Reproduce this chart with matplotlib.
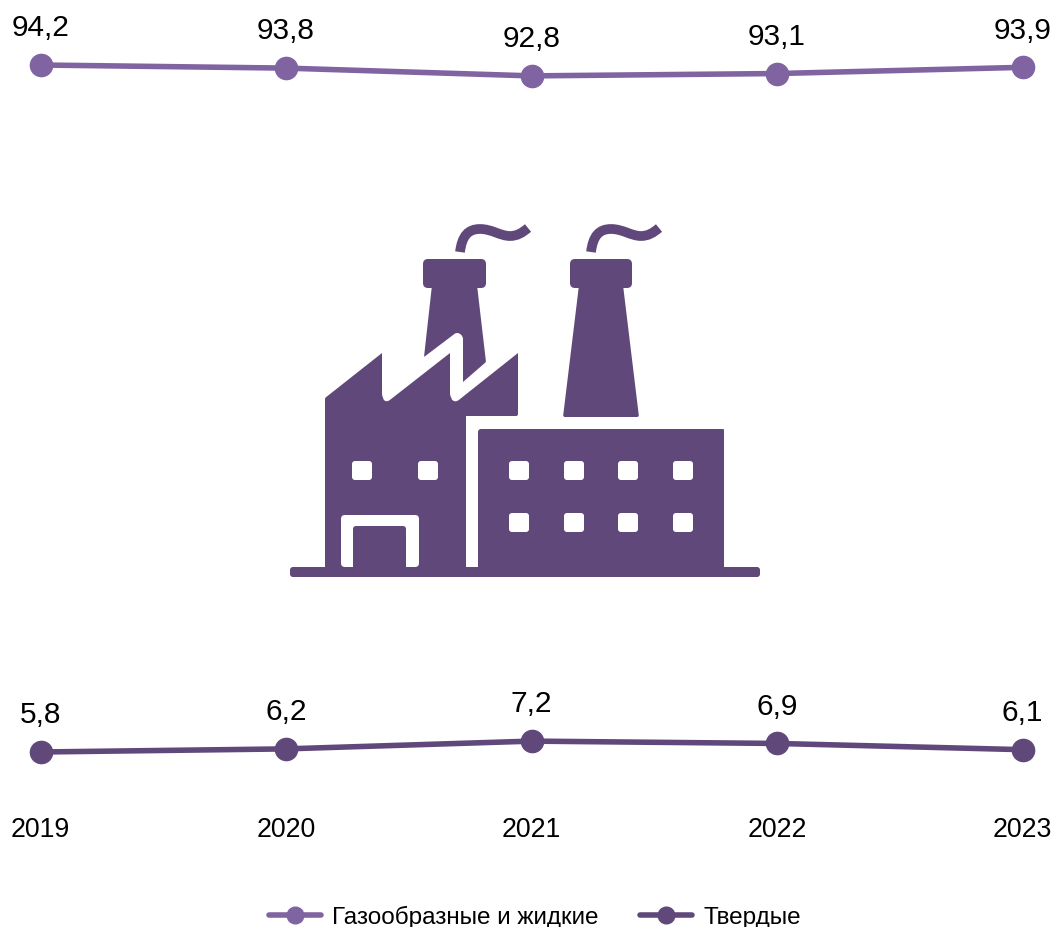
import numpy as np
import matplotlib.pyplot as plt
from matplotlib.path import Path
from matplotlib.patches import PathPatch

years = [2019, 2020, 2021, 2022, 2023]
gas_liquid = [94.2, 93.8, 92.8, 93.1, 93.9]
solid = [5.8, 6.2, 7.2, 6.9, 6.1]
gas_labels = ["94,2", "93,8", "92,8", "93,1", "93,9"]
solid_labels = ["5,8", "6,2", "7,2", "6,9", "6,1"]
legend_names = ["Газообразные и жидкие", "Твердые"]

LIGHT = "#8064a2"
DARK = "#60497a"
W, H = 1055, 927

plt.rcParams["font.family"] = ["Liberation Sans", "DejaVu Sans"]


def rounded(points, r=2.0):
    # closed polygon with softened corners, r can be one value per vertex
    pts = np.array(points, dtype=float)
    n = len(pts)
    radii = np.full(n, r) if np.isscalar(r) else np.array(r, dtype=float)
    verts, codes = [], []
    for i in range(n):
        p, prev, nxt = pts[i], pts[i - 1], pts[(i + 1) % n]
        a = p + (prev - p) / np.linalg.norm(prev - p) * radii[i]
        b = p + (nxt - p) / np.linalg.norm(nxt - p) * radii[i]
        verts += [a, p, b]
        codes += [Path.MOVETO if i == 0 else Path.LINETO, Path.CURVE3, Path.CURVE3]
    verts.append(verts[0])
    codes.append(Path.CLOSEPOLY)
    return Path(verts, codes)


def box(x0, y0, x1, y1):
    return [(x0, y0), (x1, y0), (x1, y1), (x0, y1)]


def draw_factory(ax):
    shapes = [
        # left chimney
        (rounded(box(423, 259, 486, 288), 5), DARK),
        (rounded([(432, 285), (477, 285), (486, 362), (463, 382), (463, 336),
                  (457, 332), (424, 357)], [0, 0, 1, 0, 3, 3, 1]), DARK),
        # right chimney
        (rounded(box(570, 259, 632, 288), 5), DARK),
        (rounded([(579, 285), (623, 285), (639, 417), (563, 417)], [0, 0, 2, 2]), DARK),
        # base strip
        (rounded(box(290, 567, 760, 577), 3), DARK),
        # left hall with saw roof
        (rounded([(325, 398), (382, 353), (382, 398), (386, 403), (450, 353), (450, 398),
                  (455, 403), (518, 353), (518, 416), (466, 416), (466, 570), (325, 570)],
                 [1, 0, 5, 5, 0, 5, 5, 0, 2, 0, 0, 0]), DARK),
        # right hall
        (rounded([(478, 429), (724, 429), (724, 570), (478, 570)], [3, 1, 0, 0]), DARK),
        # gap between the halls
        (rounded([(466, 416), (477, 416), (477, 567), (466, 567)], [0, 0, 3, 3]), "white"),
        # door frame and inner door
        (rounded(box(341, 515, 419, 567), 4), "white"),
        (rounded([(353, 526), (406, 526), (406, 570), (353, 570)], [3, 3, 0, 0]), DARK),
    ]
    for x0 in [352, 418]:
        shapes.append((rounded(box(x0, 461, x0 + 20, 480), 3), "white"))
    for x0 in [509, 564, 618, 673]:
        for y0 in [461, 513]:
            shapes.append((rounded(box(x0, y0, x0 + 20, y0 + 19), 3), "white"))
    for path, color in shapes:
        ax.add_patch(PathPatch(path, facecolor=color, edgecolor="none"))

    # smoke
    for dx in [0, 131]:
        verts = [(460 + dx, 252), (462 + dx, 236), (468 + dx, 229), (480 + dx, 229),
                 (492 + dx, 229), (500 + dx, 236), (510 + dx, 236),
                 (517 + dx, 236), (522 + dx, 233), (528 + dx, 228)]
        codes = [Path.MOVETO] + [Path.CURVE4] * 9
        ax.add_patch(PathPatch(Path(verts, codes), facecolor="none", edgecolor=DARK,
                               linewidth=7, capstyle="butt"))


def main():
    fig = plt.figure(figsize=(W / 100, H / 100), dpi=100)

    # icon sits in its own pixel-sized axes
    icon = fig.add_axes([0, 0, 1, 1])
    icon.set_xlim(0, W)
    icon.set_ylim(H, 0)
    icon.axis("off")
    draw_factory(icon)

    # chart axes covers the top 806 px, 2019 at x=41 and 2023 at x=1023
    bottom_px = 806
    ax = fig.add_axes([0, 1 - bottom_px / H, 1, bottom_px / H])
    ax.patch.set_alpha(0)
    per_year = (1023 - 41) / 4
    ax.set_xlim(2019 - 40.5 / per_year, 2019 + (W - 40.5) / per_year)
    per_unit = (752 - 65) / (94.2 - 5.8)
    ax.set_ylim(5.8 - (bottom_px - 752) / per_unit, 5.8 + 752 / per_unit)

    line_gas, = ax.plot(years, gas_liquid, color=LIGHT, linewidth=4, marker="o", markersize=16,
                        solid_capstyle="round", label=legend_names[0])
    line_solid, = ax.plot(years, solid, color=DARK, linewidth=4, marker="o", markersize=16,
                          solid_capstyle="round", label=legend_names[1])

    for values, labels in [(gas_liquid, gas_labels), (solid, solid_labels)]:
        for x, v, s in zip(years, values, labels):
            ax.annotate(s, (x, v), xytext=(0, 26.5), textcoords="offset points",
                        ha="center", va="center", fontsize=21.5, color="black")

    ax.set_xticks(years)
    ax.set_xticklabels([str(y) for y in years], fontsize=19.3)
    ax.set_yticks([])
    ax.tick_params(axis="x", length=0, pad=8)
    for side in ax.spines.values():
        side.set_visible(False)

    fig.legend(handles=[line_gas, line_solid], loc="center", bbox_to_anchor=(535 / W, 1 - 917 / H),
               ncol=2, frameon=False, fontsize=17.45, handlelength=2.15, handletextpad=0.46,
               columnspacing=1.72, markerscale=0.75, borderpad=0)

    fig.savefig("out.png", dpi=100)


if __name__ == "__main__":
    main()
